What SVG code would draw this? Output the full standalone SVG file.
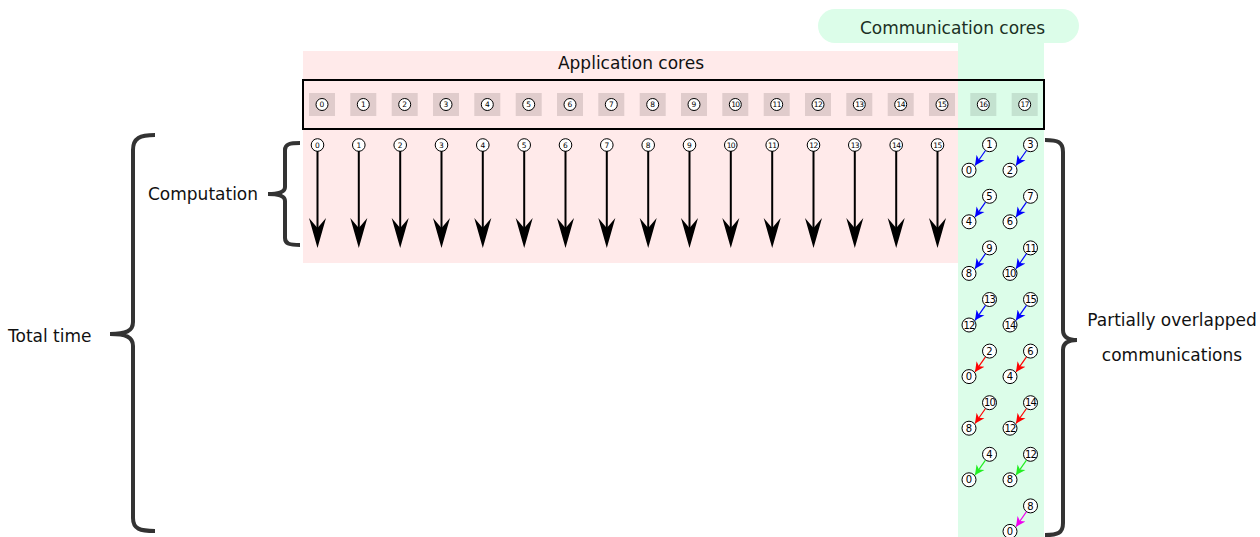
<svg xmlns="http://www.w3.org/2000/svg" xmlns:xlink="http://www.w3.org/1999/xlink" width="1260" height="537" viewBox="0 0 1260 537">
<style>
.lbl{font-family:"DejaVu Sans",sans-serif;font-size:17px;fill:#111}
.c{fill:#fff;stroke:#000;stroke-width:1}
.sqp{fill:#e0cccc}
.sqg{fill:#c4e2d0}
.n7{font-family:"DejaVu Sans",sans-serif;font-size:7.5px;text-anchor:middle;fill:#000}
.n9{font-family:"DejaVu Sans",sans-serif;font-size:10px;text-anchor:middle;fill:#000}
.brace{fill:none;stroke:#333;stroke-width:4}
.down{stroke:#000;stroke-width:2}
.blue{stroke:#0000ff;stroke-width:1.2;marker-end:url(#mb)}
.red{stroke:#ff0000;stroke-width:1.2;marker-end:url(#mr)}
.green{stroke:#22ee22;stroke-width:1.2;marker-end:url(#mg)}
.mag{stroke:#ee00ee;stroke-width:1.2;marker-end:url(#mm)}
</style>
<defs>
<path id="ah" d="M0,0 L-8.5,-30 L0,-20 L8.5,-30 Z" fill="#000"/>
<marker id="mb" markerUnits="userSpaceOnUse" markerWidth="11" markerHeight="11" refX="7" refY="3.5" orient="auto" viewBox="0 0 8 7"><path d="M0,0 L7,3.5 L0,7 L2,3.5 Z" fill="#0000ff"/></marker>
<marker id="mr" markerUnits="userSpaceOnUse" markerWidth="11" markerHeight="11" refX="7" refY="3.5" orient="auto" viewBox="0 0 8 7"><path d="M0,0 L7,3.5 L0,7 L2,3.5 Z" fill="#ff0000"/></marker>
<marker id="mg" markerUnits="userSpaceOnUse" markerWidth="11" markerHeight="11" refX="7" refY="3.5" orient="auto" viewBox="0 0 8 7"><path d="M0,0 L7,3.5 L0,7 L2,3.5 Z" fill="#22ee22"/></marker>
<marker id="mm" markerUnits="userSpaceOnUse" markerWidth="11" markerHeight="11" refX="7" refY="3.5" orient="auto" viewBox="0 0 8 7"><path d="M0,0 L7,3.5 L0,7 L2,3.5 Z" fill="#ee00ee"/></marker>
</defs>

<g id="regions">
<rect x="303" y="51" width="655" height="212" fill="#ffeaea"/>
<rect x="958" y="43" width="86" height="494" fill="#dcfde9"/>
<rect x="818" y="9" width="261" height="34" rx="17" fill="#dcfde9"/>
</g>

<g id="labels">
<text class="lbl" x="631" y="69" text-anchor="middle">Application cores</text>
<text class="lbl" x="952.5" y="34" text-anchor="middle" style="fill:#1b3024">Communication cores</text>
<text class="lbl" x="148" y="200">Computation</text>
<text class="lbl" x="8" y="342">Total time</text>
<text class="lbl" x="1172" y="326" text-anchor="middle">Partially overlapped</text>
<text class="lbl" x="1172" y="361" text-anchor="middle">communications</text>
</g>

<g id="cores">
<g id="core0" transform="translate(322,104.5)"><rect class="sqp" x="-13" y="-11.5" width="26" height="23"/><circle class="c" r="6"/><text class="n7" y="2.7">0</text></g>
<g id="core1" transform="translate(363.3,104.5)"><rect class="sqp" x="-13" y="-11.5" width="26" height="23"/><circle class="c" r="6"/><text class="n7" y="2.7">1</text></g>
<g id="core2" transform="translate(404.7,104.5)"><rect class="sqp" x="-13" y="-11.5" width="26" height="23"/><circle class="c" r="6"/><text class="n7" y="2.7">2</text></g>
<g id="core3" transform="translate(446,104.5)"><rect class="sqp" x="-13" y="-11.5" width="26" height="23"/><circle class="c" r="6"/><text class="n7" y="2.7">3</text></g>
<g id="core4" transform="translate(487.3,104.5)"><rect class="sqp" x="-13" y="-11.5" width="26" height="23"/><circle class="c" r="6"/><text class="n7" y="2.7">4</text></g>
<g id="core5" transform="translate(528.7,104.5)"><rect class="sqp" x="-13" y="-11.5" width="26" height="23"/><circle class="c" r="6"/><text class="n7" y="2.7">5</text></g>
<g id="core6" transform="translate(570,104.5)"><rect class="sqp" x="-13" y="-11.5" width="26" height="23"/><circle class="c" r="6"/><text class="n7" y="2.7">6</text></g>
<g id="core7" transform="translate(611.3,104.5)"><rect class="sqp" x="-13" y="-11.5" width="26" height="23"/><circle class="c" r="6"/><text class="n7" y="2.7">7</text></g>
<g id="core8" transform="translate(652.7,104.5)"><rect class="sqp" x="-13" y="-11.5" width="26" height="23"/><circle class="c" r="6"/><text class="n7" y="2.7">8</text></g>
<g id="core9" transform="translate(694,104.5)"><rect class="sqp" x="-13" y="-11.5" width="26" height="23"/><circle class="c" r="6"/><text class="n7" y="2.7">9</text></g>
<g id="core10" transform="translate(735.3,104.5)"><rect class="sqp" x="-13" y="-11.5" width="26" height="23"/><circle class="c" r="6"/><text class="n7" y="2.7" letter-spacing="-0.6">10</text></g>
<g id="core11" transform="translate(776.7,104.5)"><rect class="sqp" x="-13" y="-11.5" width="26" height="23"/><circle class="c" r="6"/><text class="n7" y="2.7" letter-spacing="-0.6">11</text></g>
<g id="core12" transform="translate(818,104.5)"><rect class="sqp" x="-13" y="-11.5" width="26" height="23"/><circle class="c" r="6"/><text class="n7" y="2.7" letter-spacing="-0.6">12</text></g>
<g id="core13" transform="translate(859.3,104.5)"><rect class="sqp" x="-13" y="-11.5" width="26" height="23"/><circle class="c" r="6"/><text class="n7" y="2.7" letter-spacing="-0.6">13</text></g>
<g id="core14" transform="translate(900.7,104.5)"><rect class="sqp" x="-13" y="-11.5" width="26" height="23"/><circle class="c" r="6"/><text class="n7" y="2.7" letter-spacing="-0.6">14</text></g>
<g id="core15" transform="translate(942,104.5)"><rect class="sqp" x="-13" y="-11.5" width="26" height="23"/><circle class="c" r="6"/><text class="n7" y="2.7" letter-spacing="-0.6">15</text></g>
<g id="core16" transform="translate(983.3,104.5)"><rect class="sqg" x="-13" y="-11.5" width="26" height="23"/><circle class="c" r="6"/><text class="n7" y="2.7" letter-spacing="-0.6">16</text></g>
<g id="core17" transform="translate(1024.7,104.5)"><rect class="sqg" x="-13" y="-11.5" width="26" height="23"/><circle class="c" r="6"/><text class="n7" y="2.7" letter-spacing="-0.6">17</text></g>
<rect id="corebox" x="303" y="80" width="741" height="49" fill="none" stroke="#000" stroke-width="2"/>
</g>

<g id="computation">
<g id="comp0" transform="translate(317.5,145)"><circle class="c" r="6.3"/><text class="n7" y="2.7">0</text></g>
<g id="comp1" transform="translate(358.8,145)"><circle class="c" r="6.3"/><text class="n7" y="2.7">1</text></g>
<g id="comp2" transform="translate(400.2,145)"><circle class="c" r="6.3"/><text class="n7" y="2.7">2</text></g>
<g id="comp3" transform="translate(441.5,145)"><circle class="c" r="6.3"/><text class="n7" y="2.7">3</text></g>
<g id="comp4" transform="translate(482.8,145)"><circle class="c" r="6.3"/><text class="n7" y="2.7">4</text></g>
<g id="comp5" transform="translate(524.2,145)"><circle class="c" r="6.3"/><text class="n7" y="2.7">5</text></g>
<g id="comp6" transform="translate(565.5,145)"><circle class="c" r="6.3"/><text class="n7" y="2.7">6</text></g>
<g id="comp7" transform="translate(606.8,145)"><circle class="c" r="6.3"/><text class="n7" y="2.7">7</text></g>
<g id="comp8" transform="translate(648.2,145)"><circle class="c" r="6.3"/><text class="n7" y="2.7">8</text></g>
<g id="comp9" transform="translate(689.5,145)"><circle class="c" r="6.3"/><text class="n7" y="2.7">9</text></g>
<g id="comp10" transform="translate(730.8,145)"><circle class="c" r="6.3"/><text class="n7" y="2.7" letter-spacing="-0.6">10</text></g>
<g id="comp11" transform="translate(772.2,145)"><circle class="c" r="6.3"/><text class="n7" y="2.7" letter-spacing="-0.6">11</text></g>
<g id="comp12" transform="translate(813.5,145)"><circle class="c" r="6.3"/><text class="n7" y="2.7" letter-spacing="-0.6">12</text></g>
<g id="comp13" transform="translate(854.8,145)"><circle class="c" r="6.3"/><text class="n7" y="2.7" letter-spacing="-0.6">13</text></g>
<g id="comp14" transform="translate(896.2,145)"><circle class="c" r="6.3"/><text class="n7" y="2.7" letter-spacing="-0.6">14</text></g>
<g id="comp15" transform="translate(937.5,145)"><circle class="c" r="6.3"/><text class="n7" y="2.7" letter-spacing="-0.6">15</text></g>
</g>

<g id="communication">
<g id="r0a1" transform="translate(989.5,144.7)"><circle class="c" r="7"/><text class="n9" y="3.6">1</text></g>
<g id="r0a0" transform="translate(969,170.2)"><circle class="c" r="7"/><text class="n9" y="3.6">0</text></g>
<g id="r0b3" transform="translate(1030.5,144.7)"><circle class="c" r="7"/><text class="n9" y="3.6">3</text></g>
<g id="r0b2" transform="translate(1010,170.2)"><circle class="c" r="7"/><text class="n9" y="3.6">2</text></g>
<g id="r1a5" transform="translate(989.5,196.3)"><circle class="c" r="7"/><text class="n9" y="3.6">5</text></g>
<g id="r1a4" transform="translate(969,221.8)"><circle class="c" r="7"/><text class="n9" y="3.6">4</text></g>
<g id="r1b7" transform="translate(1030.5,196.3)"><circle class="c" r="7"/><text class="n9" y="3.6">7</text></g>
<g id="r1b6" transform="translate(1010,221.8)"><circle class="c" r="7"/><text class="n9" y="3.6">6</text></g>
<g id="r2a9" transform="translate(989.5,247.9)"><circle class="c" r="7"/><text class="n9" y="3.6">9</text></g>
<g id="r2a8" transform="translate(969,273.4)"><circle class="c" r="7"/><text class="n9" y="3.6">8</text></g>
<g id="r2b11" transform="translate(1030.5,247.9)"><circle class="c" r="7"/><text class="n9" y="3.6" letter-spacing="-0.8">11</text></g>
<g id="r2b10" transform="translate(1010,273.4)"><circle class="c" r="7"/><text class="n9" y="3.6" letter-spacing="-0.8">10</text></g>
<g id="r3a13" transform="translate(989.5,299.5)"><circle class="c" r="7"/><text class="n9" y="3.6" letter-spacing="-0.8">13</text></g>
<g id="r3a12" transform="translate(969,325)"><circle class="c" r="7"/><text class="n9" y="3.6" letter-spacing="-0.8">12</text></g>
<g id="r3b15" transform="translate(1030.5,299.5)"><circle class="c" r="7"/><text class="n9" y="3.6" letter-spacing="-0.8">15</text></g>
<g id="r3b14" transform="translate(1010,325)"><circle class="c" r="7"/><text class="n9" y="3.6" letter-spacing="-0.8">14</text></g>
<g id="r4a2" transform="translate(989.5,351.1)"><circle class="c" r="7"/><text class="n9" y="3.6">2</text></g>
<g id="r4a0" transform="translate(969,376.6)"><circle class="c" r="7"/><text class="n9" y="3.6">0</text></g>
<g id="r4b6" transform="translate(1030.5,351.1)"><circle class="c" r="7"/><text class="n9" y="3.6">6</text></g>
<g id="r4b4" transform="translate(1010,376.6)"><circle class="c" r="7"/><text class="n9" y="3.6">4</text></g>
<g id="r5a10" transform="translate(989.5,402.7)"><circle class="c" r="7"/><text class="n9" y="3.6" letter-spacing="-0.8">10</text></g>
<g id="r5a8" transform="translate(969,428.2)"><circle class="c" r="7"/><text class="n9" y="3.6">8</text></g>
<g id="r5b14" transform="translate(1030.5,402.7)"><circle class="c" r="7"/><text class="n9" y="3.6" letter-spacing="-0.8">14</text></g>
<g id="r5b12" transform="translate(1010,428.2)"><circle class="c" r="7"/><text class="n9" y="3.6" letter-spacing="-0.8">12</text></g>
<g id="r6a4" transform="translate(989.5,454.3)"><circle class="c" r="7"/><text class="n9" y="3.6">4</text></g>
<g id="r6a0" transform="translate(969,479.8)"><circle class="c" r="7"/><text class="n9" y="3.6">0</text></g>
<g id="r6b12" transform="translate(1030.5,454.3)"><circle class="c" r="7"/><text class="n9" y="3.6" letter-spacing="-0.8">12</text></g>
<g id="r6b8" transform="translate(1010,479.8)"><circle class="c" r="7"/><text class="n9" y="3.6">8</text></g>
<g id="r7b8" transform="translate(1030.5,505.9)"><circle class="c" r="7"/><text class="n9" y="3.6">8</text></g>
<g id="r7b0" transform="translate(1010,531.4)"><circle class="c" r="7"/><text class="n9" y="3.6">0</text></g>
</g>

<g id="connectors">
<g id="comp-arrows">
<line class="down" x1="317.5" y1="151" x2="317.5" y2="232"/><use xlink:href="#ah" href="#ah" transform="translate(317.5,248)"/>
<line class="down" x1="358.8" y1="151" x2="358.8" y2="232"/><use xlink:href="#ah" href="#ah" transform="translate(358.8,248)"/>
<line class="down" x1="400.2" y1="151" x2="400.2" y2="232"/><use xlink:href="#ah" href="#ah" transform="translate(400.2,248)"/>
<line class="down" x1="441.5" y1="151" x2="441.5" y2="232"/><use xlink:href="#ah" href="#ah" transform="translate(441.5,248)"/>
<line class="down" x1="482.8" y1="151" x2="482.8" y2="232"/><use xlink:href="#ah" href="#ah" transform="translate(482.8,248)"/>
<line class="down" x1="524.2" y1="151" x2="524.2" y2="232"/><use xlink:href="#ah" href="#ah" transform="translate(524.2,248)"/>
<line class="down" x1="565.5" y1="151" x2="565.5" y2="232"/><use xlink:href="#ah" href="#ah" transform="translate(565.5,248)"/>
<line class="down" x1="606.8" y1="151" x2="606.8" y2="232"/><use xlink:href="#ah" href="#ah" transform="translate(606.8,248)"/>
<line class="down" x1="648.2" y1="151" x2="648.2" y2="232"/><use xlink:href="#ah" href="#ah" transform="translate(648.2,248)"/>
<line class="down" x1="689.5" y1="151" x2="689.5" y2="232"/><use xlink:href="#ah" href="#ah" transform="translate(689.5,248)"/>
<line class="down" x1="730.8" y1="151" x2="730.8" y2="232"/><use xlink:href="#ah" href="#ah" transform="translate(730.8,248)"/>
<line class="down" x1="772.2" y1="151" x2="772.2" y2="232"/><use xlink:href="#ah" href="#ah" transform="translate(772.2,248)"/>
<line class="down" x1="813.5" y1="151" x2="813.5" y2="232"/><use xlink:href="#ah" href="#ah" transform="translate(813.5,248)"/>
<line class="down" x1="854.8" y1="151" x2="854.8" y2="232"/><use xlink:href="#ah" href="#ah" transform="translate(854.8,248)"/>
<line class="down" x1="896.2" y1="151" x2="896.2" y2="232"/><use xlink:href="#ah" href="#ah" transform="translate(896.2,248)"/>
<line class="down" x1="937.5" y1="151" x2="937.5" y2="232"/><use xlink:href="#ah" href="#ah" transform="translate(937.5,248)"/>
</g>
<g id="comm-arrows">
<line class="blue" x1="985.5" y1="150.5" x2="975" y2="165.5"/>
<line class="blue" x1="1026.5" y1="150.5" x2="1016" y2="165.5"/>
<line class="blue" x1="985.5" y1="202.1" x2="975" y2="217.1"/>
<line class="blue" x1="1026.5" y1="202.1" x2="1016" y2="217.1"/>
<line class="blue" x1="985.5" y1="253.7" x2="975" y2="268.7"/>
<line class="blue" x1="1026.5" y1="253.7" x2="1016" y2="268.7"/>
<line class="blue" x1="985.5" y1="305.3" x2="975" y2="320.3"/>
<line class="blue" x1="1026.5" y1="305.3" x2="1016" y2="320.3"/>
<line class="red" x1="985.5" y1="356.9" x2="975" y2="371.9"/>
<line class="red" x1="1026.5" y1="356.9" x2="1016" y2="371.9"/>
<line class="red" x1="985.5" y1="408.5" x2="975" y2="423.5"/>
<line class="red" x1="1026.5" y1="408.5" x2="1016" y2="423.5"/>
<line class="green" x1="985.5" y1="460.1" x2="975" y2="475.1"/>
<line class="green" x1="1026.5" y1="460.1" x2="1016" y2="475.1"/>
<line class="mag" x1="1026.5" y1="511.7" x2="1016" y2="526.7"/>
</g>
</g>

<g id="braces">
<path class="brace" d="M155,135 C140,135 133,138 133,150 L133,322 C133,331 126,334 110,334 C126,334 133,337 133,346 L133,518 C133,529 140,531 155,531"/>
<path class="brace" d="M300,143 C290,143 285,144 285,150 L285,187 C285,192 280,194 268,194 C280,194 285,196 285,201 L285,238 C285,244 290,245 300,245"/>
<path class="brace" d="M1045,140 C1058,140 1063,142 1063,152 L1063,330 C1063,337 1068,340 1077,340 C1068,340 1063,343 1063,350 L1063,523 C1063,533 1058,535 1045,535"/>
</g>
</svg>
